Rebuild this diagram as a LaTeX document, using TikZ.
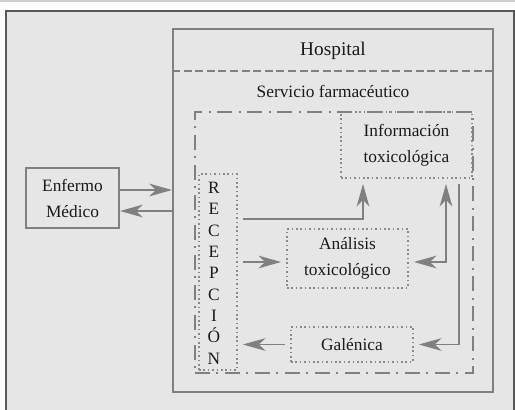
\documentclass[tikz,border=0pt]{standalone}
\usepackage{fontspec}
\setmainfont{Liberation Serif}
\usetikzlibrary{arrows.meta}
\definecolor{bggray}{HTML}{E6E6E6}
\definecolor{topgray}{HTML}{CFCFCF}
\definecolor{edgegray}{HTML}{595959}
\definecolor{linegray}{HTML}{808080}
\definecolor{dotgray}{HTML}{8A8A8A}
\definecolor{txt}{HTML}{1A1A1A}
\begin{document}
\begin{tikzpicture}[x=0.75pt,y=-0.75pt,
  lbl/.style={text=txt, font=\fontsize{13}{19.5}\selectfont, align=center, inner sep=0pt},
  solidbox/.style={draw=linegray, line width=1.5pt, inner sep=0pt},
  dotbox/.style={draw=dotgray, line width=1.3pt, dash pattern=on 1.2pt off 2.1pt, inner sep=0pt, text=txt, font=\fontsize{13}{19.5}\selectfont, align=center},
  dashdotbox/.style={draw=linegray, line width=1.7pt, dash pattern=on 11.25pt off 4.5pt on 1.5pt off 5.25pt, inner sep=0pt},
  tip/.tip={Stealth[length=17pt,width=9.5pt,inset=5pt]},
  conn/.style={draw=linegray, line width=1.3pt, -tip, shorten <=3.75pt, shorten >=3.75pt},
  bigconn/.style={draw=linegray, line width=2pt, -tip}]
\useasboundingbox (0,0) rectangle (515,410);
\fill[white] (0,0) rectangle (515,410);
\fill[topgray] (0,0) rectangle (515,2.5);
\fill[bggray] (6,11) rectangle (515,410);
\draw[edgegray, line width=1.5pt] (6,411) -- (6,11) -- (513.7,11) -- (513.7,411);

% Hospital
\node[solidbox, minimum width=240pt, minimum height=272.25pt] (hosp) at (333,210.5) {};
\draw[draw=linegray, line width=1.5pt, dash pattern=on 6pt off 2.7pt] (hosp.west |- 0,71) -- (hosp.east |- 0,71);
\node[lbl, font=\fontsize{14.5}{17}\selectfont] (hosptxt) at (333,51) {Hospital};
\node[lbl] (servtxt) at (333,91) {Servicio farmacéutico};

% Servicio box
\node[dashdotbox, minimum width=208.5pt, minimum height=195.75pt] (serv) at (334,242.5) {};

% Inner boxes
\node[dotbox, minimum width=98.25pt, minimum height=49.5pt] (info) at (406.5,145) {Información\\toxicológica};
\node[dotbox, minimum width=28.5pt, minimum height=147pt] (recep) at (218,272) {};
\node[lbl, font=\fontsize{13}{16}\selectfont] (receptxt) at (214,273) {R\\E\\C\\E\\P\\C\\I\\Ó\\N};
\node[dotbox, minimum width=90.75pt, minimum height=44.25pt] (anal) at (347.5,258.5) {Análisis\\toxicológico};
\node[dotbox, minimum width=91.5pt, minimum height=26.25pt] (gal) at (352,344.5) {Galénica};

% Enfermo
\node[solidbox, lbl, draw=linegray, line width=1.5pt, minimum width=69.75pt, minimum height=45pt] (enf) at (72.5,198) {Enfermo\\Médico};

% Connectors
\draw[bigconn] (enf.east |- 0,190) -- (hosp.west |- 0,190);
\draw[bigconn] (hosp.west |- 0,211) -- (enf.east |- 0,211);
\draw[conn] (recep.east |- 0,219) -| (info.south -| 363,0);
\draw[conn] (recep.east |- 0,262) -- (anal.west |- 0,262);
\draw[conn, tip-tip] (anal.east |- 0,262) -| (info.south -| 446,0);
\draw[conn] (info.south -| 459,0) |- (gal.east);
\draw[conn] (gal.west) -- (recep.east |- gal.west);
\end{tikzpicture}
\end{document}
